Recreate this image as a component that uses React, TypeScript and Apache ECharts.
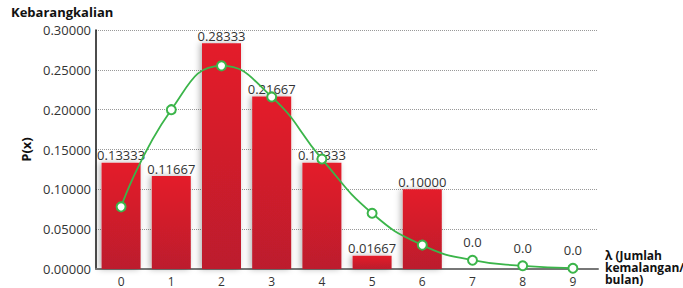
import React, { useEffect, useRef } from "react";
import * as echarts from "echarts";

const categories = ["0", "1", "2", "3", "4", "5", "6", "7", "8", "9"];
const barValues = [0.13333, 0.11667, 0.28333, 0.21667, 0.13333, 0.01667, 0.1, 0, 0, 0];
const barLabels = ["0.13333", "0.11667", "0.28333", "0.21667", "0.13333", "0.01667", "0.10000", "", "", ""];
const lineValues = [0.078, 0.2, 0.255, 0.216, 0.138, 0.07, 0.03, 0.011, 0.004, 0.001];
const lineLabels = ["", "", "", "", "", "", "", "0.0", "0.0", "0.0"];
const yTicks = ["0.00000", "0.05000", "0.10000", "0.15000", "0.20000", "0.25000", "0.30000"];

const FONT = "Open Sans";

export default function App() {
  const ref = useRef<HTMLDivElement>(null);
  useEffect(() => {
    const chart = echarts.init(ref.current!, undefined, { renderer: "svg" });
    chart.setOption({
      animation: false,
      textStyle: { fontFamily: FONT },
      grid: { left: 96, right: 85, top: 30, bottom: 19, containLabel: false },
      graphic: [
        {
          type: "text",
          left: 11,
          top: 5,
          style: { text: "Kebarangkalian", font: `bold 13px ${FONT}`, fill: "#111" },
        },
        {
          type: "text",
          left: 605,
          top: 249,
          style: {
            text: "λ (Jumlah\nkemalangan/\nbulan)",
            font: `bold 12px ${FONT}`,
            lineHeight: 12,
            fill: "#111",
          },
        },
      ],
      xAxis: {
        type: "category",
        data: categories,
        axisLine: { lineStyle: { color: "#777", width: 2 } },
        axisTick: { show: false },
        axisLabel: { color: "#333", fontSize: 12, margin: 6, fontFamily: FONT },
      },
      yAxis: {
        type: "value",
        min: 0,
        max: 0.3,
        interval: 0.05,
        name: "P(x)",
        nameLocation: "middle",
        nameGap: 62,
        nameRotate: 90,
        nameTextStyle: { fontWeight: "bold", fontSize: 13, color: "#111", fontFamily: FONT },
        axisLine: { show: true, lineStyle: { color: "#111", width: 1.5 } },
        axisTick: { show: false },
        axisLabel: {
          color: "#333",
          fontSize: 13,
          margin: 5,
          fontFamily: FONT,
          formatter: (v: number) => yTicks[Math.round(v / 0.05)] ?? v.toFixed(5),
        },
        splitLine: { lineStyle: { color: "#999", type: [1, 1], width: 1 } },
      },
      series: [
        {
          type: "bar",
          data: barValues,
          barWidth: 39,
          itemStyle: {
            color: new echarts.graphic.LinearGradient(0, 0, 0, 1, [
              { offset: 0, color: "#E41E2B" },
              { offset: 1, color: "#BC1D2D" },
            ]),
            shadowColor: "rgba(0,0,0,0.3)",
            shadowBlur: 6,
            shadowOffsetX: -2,
          },
          label: {
            show: true,
            position: "top",
            distance: 1,
            color: "#333",
            fontSize: 13,
            fontFamily: FONT,
            formatter: (p: any) => barLabels[p.dataIndex],
          },
          z: 2,
        },
        {
          type: "line",
          data: lineValues,
          smooth: true,
          symbol: "circle",
          symbolSize: 9,
          lineStyle: { color: "#3BB54A", width: 1.8 },
          itemStyle: { color: "#fff", borderColor: "#3BB54A", borderWidth: 2 },
          label: {
            show: true,
            position: "top",
            distance: 6,
            color: "#333",
            fontSize: 13,
            fontFamily: FONT,
            formatter: (p: any) => lineLabels[p.dataIndex],
          },
          z: 3,
        },
      ],
    });
    return () => chart.dispose();
  }, []);
  return <div ref={ref} style={{ width: 683, height: 288, position: "absolute", left: 0, top: 0 }} />;
}
